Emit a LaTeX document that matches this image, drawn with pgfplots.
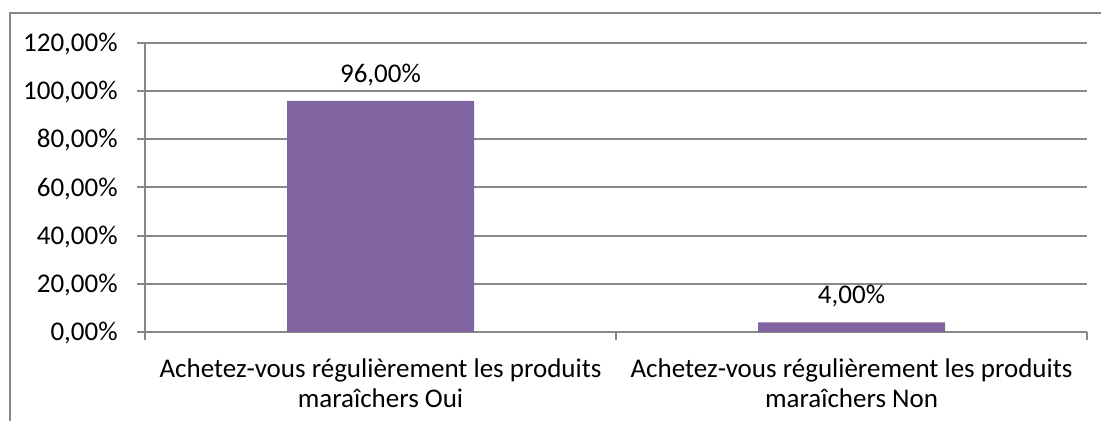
\documentclass[border=0pt]{standalone}
\usepackage{fontspec}
\setmainfont{Carlito}
\usepackage{pgfplots}
\pgfplotsset{compat=1.18}
\definecolor{barpurple}{HTML}{8064A2}
\definecolor{gridgray}{HTML}{878787}
\begin{document}
\begin{tikzpicture}[font=\fontsize{13.5bp}{15bp}\selectfont]
\useasboundingbox (0bp,0bp) rectangle (550.5bp,210.5bp);
\draw[gridgray, line width=1bp] (5bp,-1bp) -- (5bp,204bp) -- (551.5bp,204bp);
\begin{axis}[
  at={(72.5bp,44.5bp)}, anchor=south west,
  scale only axis, width=471bp, height=144.5bp,
  xmin=-0.5, xmax=1.5, ymin=0, ymax=120,
  clip=false,
  axis x line*=bottom, axis y line*=left,
  axis line style={gridgray, line width=1bp, -},
  ytick={0,20,40,60,80,100,120},
  yticklabels={{0,00\%},{20,00\%},{40,00\%},{60,00\%},{80,00\%},{100,00\%},{120,00\%}},
  ymajorgrids, grid style={gridgray, line width=1bp},
  y tick style={gridgray, line width=1bp},
  tick align=outside,
  major tick length=4bp,
  yticklabel style={anchor=base east, inner sep=0pt, xshift=-9.5bp, yshift=-4.3bp, font=\fontsize{13.5bp}{15bp}\selectfont},
  xtick={0,1},
  x tick style={draw=none},
  xticklabels={{Achetez-vous régulièrement les produits\\maraîchers Oui},{Achetez-vous régulièrement les produits\\maraîchers Non}},
  xticklabel style={align=center, anchor=north, inner sep=0pt, yshift=-9bp, font=\fontsize{13.5bp}{15bp}\selectfont},
  extra x ticks={-0.5,0.5,1.5},
  extra x tick labels={},
  extra x tick style={x tick style={draw=gridgray, line width=1bp}, major tick length=4bp, grid=none},
  /pgf/number format/assume math mode=true,
]
\addplot[ybar, bar width=93.5bp, fill=barpurple, draw=none,
  point meta=y,
  nodes near coords={\pgfmathprintnumber[fixed,fixed zerofill,precision=2,use comma]{\pgfplotspointmeta}\%},
  every node near coord/.style={anchor=base, inner sep=0pt, yshift=9.2bp, black, font=\fontsize{13.5bp}{15bp}\selectfont}]
  coordinates {(0,96) (1,4)};
\end{axis}
\end{tikzpicture}
\end{document}
